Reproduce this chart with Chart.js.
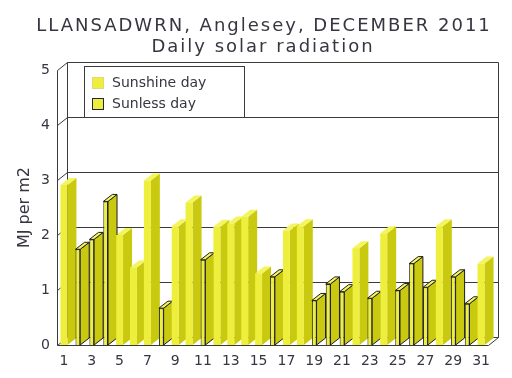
<!DOCTYPE html>
<html>
<head>
<meta charset="utf-8">
<script src="https://cdn.jsdelivr.net/npm/chart.js@4.4.0/dist/chart.umd.min.js"></script>
<style>
  html, body { margin: 0; padding: 0; background: #fff; }
  canvas { display: block; }
</style>
</head>
<body>
<canvas id="chart" width="512" height="378"></canvas>
<script>
// December 2011 days
const days = ['1','2','3','4','5','6','7','8','9','10','11','12','13','14','15','16',
  '17','18','19','20','21','22','23','24','25','26','27','28','29','30','31'];

// MJ per m2, split by day type (null where the other type applies)
const sunshineDay = [2.91, null, null, null, 2.00, 1.41, 2.99, null, 2.16, 2.59, null,
  2.15, 2.21, 2.33, 1.30, null, 2.08, 2.16, null, null, null, 1.76, null, 2.03, null,
  null, null, 2.16, null, null, 1.48];
const sunlessDay = [null, 1.74, 1.92, 2.61, null, null, null, 0.67, null, null, 1.55,
  null, null, null, null, 1.24, null, null, 0.81, 1.11, 0.97, null, 0.85, null, 0.99,
  1.48, 1.05, null, 1.24, 0.75, null];

const yTicks = [0, 1, 2, 3, 4, 5];

const titleLines = ['LLANSADWRN, Anglesey, DECEMBER 2011', 'Daily solar radiation'];

const FONT = '"DejaVu Sans", Verdana, sans-serif';
const TEXT = '#363640';
const LINE = '#3a3a3a';
const FRONT = '#eeee3c';
const SIDE = '#c9c90f';
const TOP = '#f4f45c';

// wall depth and bar depth (pixels)
const WDX = 10, WDY = 8;
const BDX = 9, BDY = 7;

function line(ctx, x1, y1, x2, y2) {
  ctx.beginPath();
  ctx.moveTo(x1, y1);
  ctx.lineTo(x2, y2);
  ctx.stroke();
}

const box3d = {
  id: 'box3d',
  beforeDatasetsDraw(chart) {
    const ctx = chart.ctx;
    const { left, right, top, bottom } = chart.chartArea;
    const ys = chart.scales.y;
    const L = Math.round(left) + 0.5, R = Math.round(right) + 0.5;
    ctx.save();
    ctx.strokeStyle = LINE;
    ctx.lineWidth = 1;
    // back wall grid + left wall diagonals
    yTicks.forEach(v => {
      const y = Math.round(ys.getPixelForValue(v)) + 0.5;
      line(ctx, L + WDX, y - WDY, R + WDX, y - WDY);
      line(ctx, L, y, L + WDX, y - WDY);
    });
    const T = Math.round(top) + 0.5, B = Math.round(bottom) + 0.5;
    line(ctx, L + WDX, T - WDY, L + WDX, B - WDY);
    line(ctx, R + WDX, T - WDY, R + WDX, B - WDY);
    line(ctx, L, T, L, B);
    line(ctx, L, B, R, B);
    line(ctx, R, B, R + WDX, B - WDY);

    // side and top faces of every bar
    chart.data.datasets.forEach((ds, di) => {
      const meta = chart.getDatasetMeta(di);
      const outlined = di === 1;
      meta.data.forEach((bar, j) => {
        if (ds.data[j] == null) return;
        const { x, y, base, width } = bar.getProps(['x', 'y', 'base', 'width'], true);
        const x0 = x - width / 2, x1 = x + width / 2;
        ctx.beginPath();
        ctx.moveTo(x1, y);
        ctx.lineTo(x1 + BDX, y - BDY);
        ctx.lineTo(x1 + BDX, base - BDY);
        ctx.lineTo(x1, base);
        ctx.closePath();
        ctx.fillStyle = SIDE;
        ctx.fill();
        if (outlined) { ctx.strokeStyle = '#1e1e1e'; ctx.stroke(); }
        ctx.beginPath();
        ctx.moveTo(x0, y);
        ctx.lineTo(x0 + BDX, y - BDY);
        ctx.lineTo(x1 + BDX, y - BDY);
        ctx.lineTo(x1, y);
        ctx.closePath();
        ctx.fillStyle = TOP;
        ctx.fill();
        if (outlined) { ctx.strokeStyle = '#1e1e1e'; ctx.stroke(); }
      });
    });
    ctx.restore();
  },
  afterDraw(chart) {
    const ctx = chart.ctx;
    ctx.save();
    // title
    ctx.fillStyle = TEXT;
    ctx.font = '18px ' + FONT;
    ctx.textAlign = 'center';
    ctx.textBaseline = 'alphabetic';
    if ('letterSpacing' in ctx) ctx.letterSpacing = '2px';
    ctx.fillText(titleLines[0], 264, 31);
    ctx.fillText(titleLines[1], 263, 52);
    if ('letterSpacing' in ctx) ctx.letterSpacing = '0px';

    // legend
    ctx.fillStyle = '#fff';
    ctx.fillRect(84.5, 66.5, 160, 51);
    ctx.strokeStyle = LINE;
    ctx.lineWidth = 1;
    ctx.strokeRect(84.5, 66.5, 160, 51);
    const items = chart.data.datasets;
    ctx.font = '14px ' + FONT;
    ctx.textAlign = 'left';
    ctx.textBaseline = 'middle';
    items.forEach((ds, i) => {
      const sy = 77 + i * 21;
      ctx.fillStyle = FRONT;
      ctx.fillRect(92.5, sy + 0.5, 11, 11);
      ctx.strokeStyle = i === 0 ? '#e2d87a' : '#26263a';
      ctx.strokeRect(92.5, sy + 0.5, 11, 11);
      ctx.fillStyle = TEXT;
      ctx.fillText(ds.label, 112, sy + 6);
    });
    ctx.restore();
  }
};

new Chart(document.getElementById('chart'), {
  type: 'bar',
  data: {
    labels: days,
    datasets: [
      {
        label: 'Sunshine day',
        data: sunshineDay,
        backgroundColor: FRONT,
        borderWidth: 0,
        barPercentage: 0.5,
        categoryPercentage: 1
      },
      {
        label: 'Sunless day',
        data: sunlessDay,
        backgroundColor: FRONT,
        borderColor: '#1e1e1e',
        borderWidth: 1,
        barPercentage: 0.34,
        categoryPercentage: 1
      }
    ]
  },
  options: {
    responsive: false,
    animation: false,
    devicePixelRatio: 1,
    layout: { padding: { top: 70, right: 24, left: 0, bottom: 0 } },
    plugins: {
      legend: { display: false },
      title: { display: false },
      tooltip: { enabled: false }
    },
    scales: {
      x: {
        stacked: true,
        grid: { display: false, drawTicks: false },
        border: { display: false },
        ticks: {
          autoSkip: false,
          maxRotation: 0,
          padding: 8,
          color: TEXT,
          font: { family: FONT, size: 14 },
          callback(value, index) {
            return index % 2 === 0 ? days[index] : '';
          }
        },
        afterFit(scale) { scale.height = 33; }
      },
      y: {
        min: 0,
        max: 5,
        grid: { display: false, drawTicks: false },
        border: { display: false },
        ticks: {
          stepSize: 1,
          padding: 7,
          color: TEXT,
          font: { family: FONT, size: 14 }
        },
        title: {
          display: true,
          text: 'MJ per m2',
          color: TEXT,
          font: { family: FONT, size: 16 },
          padding: { top: 15, bottom: 0 }
        },
        afterFit(scale) { scale.width = 57; }
      }
    }
  },
  plugins: [box3d]
});
</script>
</body>
</html>
